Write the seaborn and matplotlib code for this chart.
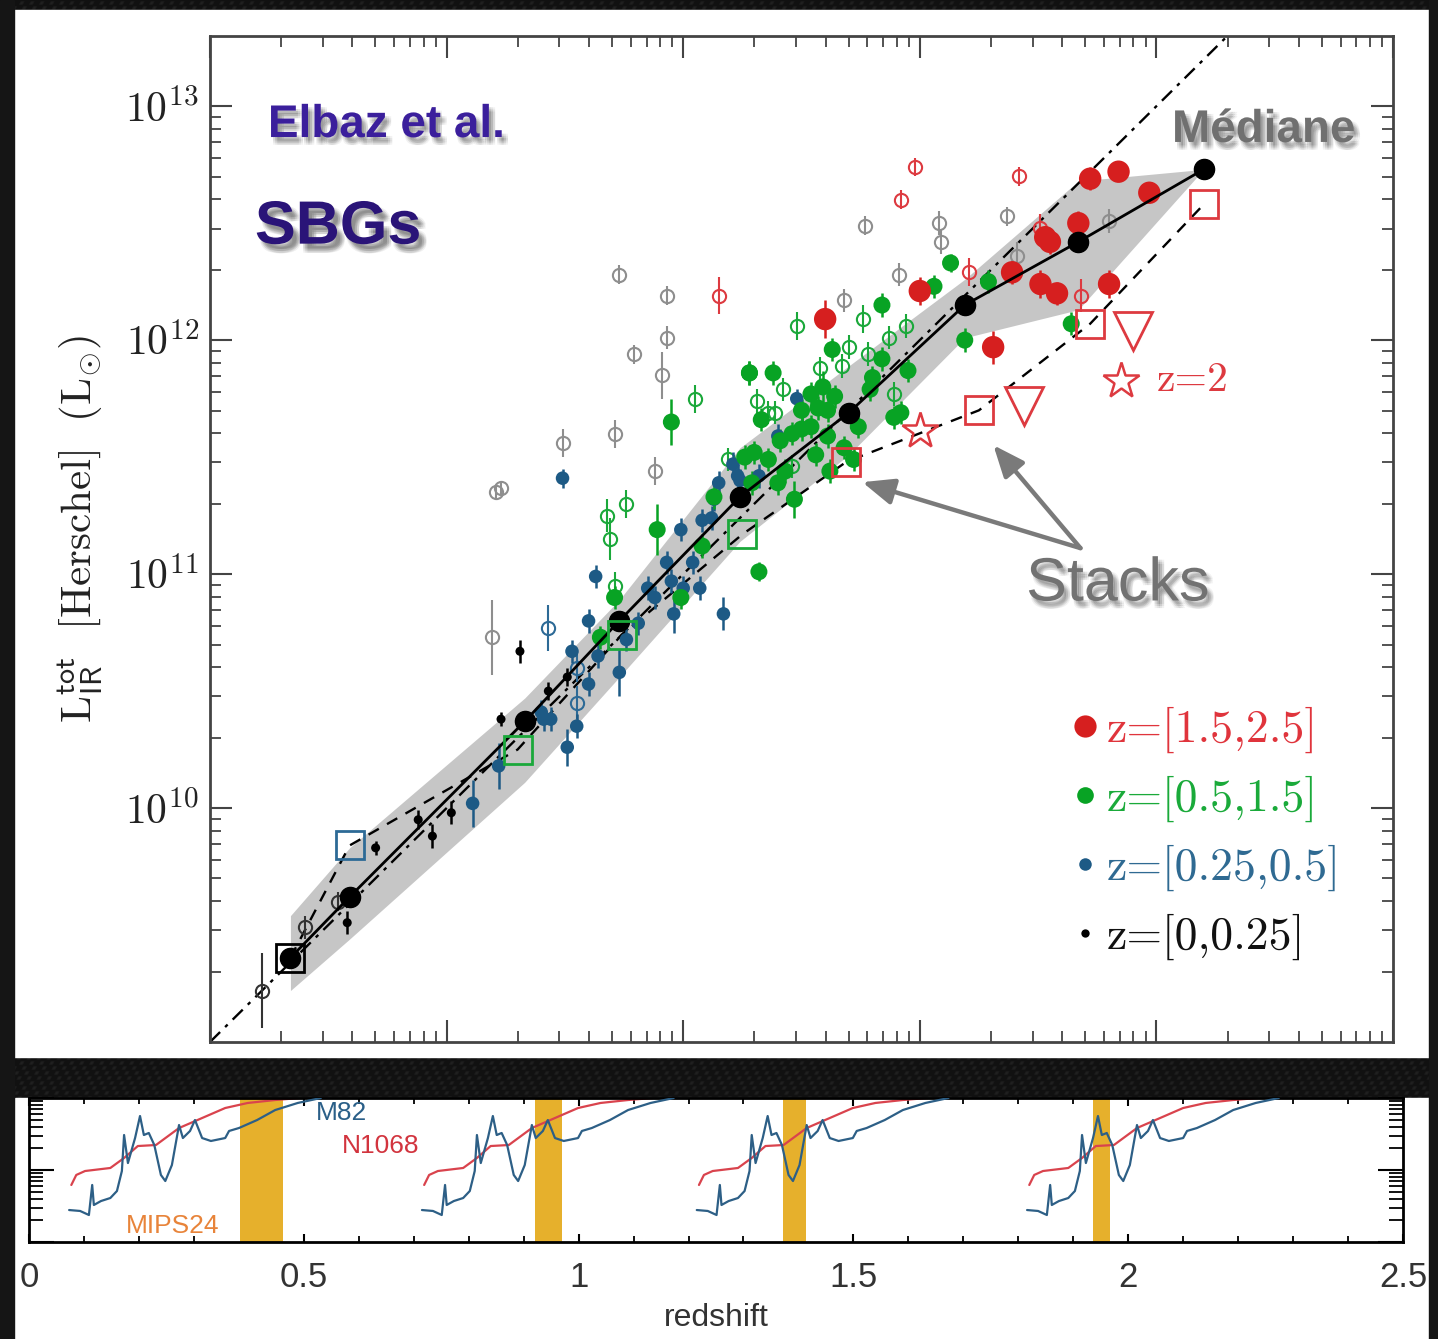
import numpy as np
import pandas as pd
import matplotlib
matplotlib.use("Agg")
import matplotlib.pyplot as plt
import matplotlib.patheffects as pe
from matplotlib.patches import Rectangle
from matplotlib.lines import Line2D
from matplotlib.font_manager import FontProperties
from matplotlib.ticker import LogLocator, NullFormatter, FixedLocator, MultipleLocator
import seaborn as sns

sns.set_theme(style="white")
plt.rcParams["font.family"] = ["Liberation Sans", "DejaVu Sans"]
plt.rcParams["mathtext.fontset"] = "cm"

# ---------------------------------------------------------------- data
# log10 L_IR(24um extrapolated) vs log10 L_IR(Herschel), per redshift bin
red_fill_x = [11.60, 12.00, 12.31, 12.39, 12.51, 12.58, 12.53, 12.55, 12.67, 12.80, 12.72, 12.84, 12.97]
red_fill_y = [12.09, 12.21, 11.97, 12.29, 12.24, 12.20, 12.44, 12.42, 12.50, 12.24, 12.69, 12.72, 12.63]
red_fill_e = [0.08, 0.06, 0.07, 0.05, 0.06, 0.05, 0.05, 0.05, 0.05, 0.06, 0.05, 0.04, 0.04]

red_open_x = [11.15, 11.92, 11.98, 12.42, 12.21, 12.51, 12.68]
red_open_y = [12.19, 12.60, 12.74, 12.70, 12.29, 12.48, 12.19]
red_open_e = [0.08, 0.04, 0.04, 0.04, 0.06, 0.06, 0.07]

green_fill_x = [11.28, 10.95, 10.89, 11.26, 11.08, 11.32, 10.71, 10.65, 10.99, 12.13, 12.06, 11.84,
                11.63, 11.38, 11.28, 11.84, 11.95, 11.80, 11.59, 11.54, 11.57, 11.64, 11.92, 11.89,
                12.19, 12.29, 11.61, 11.74, 11.50, 11.30, 11.46, 11.54, 11.61, 11.68, 11.72, 11.36,
                11.43, 11.40, 11.47, 11.29, 11.13, 12.64, 11.50, 11.56, 11.62, 11.41, 11.33, 11.79]
green_fill_y = [11.86, 11.65, 11.19, 11.50, 11.12, 11.01, 10.90, 10.73, 10.90, 12.33, 12.23, 12.15,
                11.96, 11.86, 11.86, 11.92, 11.87, 11.84, 11.80, 11.77, 11.71, 11.76, 11.69, 11.67,
                12.00, 12.25, 11.70, 11.63, 11.62, 11.52, 11.60, 11.63, 11.59, 11.54, 11.49, 11.49,
                11.44, 11.39, 11.32, 11.39, 11.33, 12.07, 11.70, 11.51, 11.44, 11.57, 11.66, 11.79]
green_fill_e = [0.05, 0.10, 0.11, 0.05, 0.05, 0.04, 0.05, 0.05, 0.05, 0.04, 0.05, 0.05,
                0.05, 0.05, 0.05, 0.05, 0.05, 0.05, 0.07, 0.05, 0.05, 0.05, 0.05, 0.05,
                0.05, 0.05, 0.05, 0.05, 0.05, 0.05, 0.05, 0.05, 0.05, 0.05, 0.05, 0.05,
                0.05, 0.05, 0.08, 0.05, 0.05, 0.05, 0.05, 0.05, 0.05, 0.05, 0.05, 0.05]

green_open_x = [11.05, 10.76, 10.68, 10.69, 11.19, 10.71, 11.76, 11.48, 11.94, 11.87,
                11.70, 11.78, 11.67, 11.58, 11.42, 11.31, 11.36, 11.39, 11.89, 11.46]
green_open_y = [11.75, 11.30, 11.25, 11.15, 11.49, 10.95, 12.09, 12.06, 12.06, 12.01,
                11.97, 11.94, 11.89, 11.88, 11.79, 11.74, 11.69, 11.69, 11.77, 11.46]
green_open_e = [0.06, 0.06, 0.07, 0.09, 0.05, 0.06, 0.06, 0.06, 0.05, 0.05,
                0.05, 0.05, 0.05, 0.05, 0.05, 0.05, 0.05, 0.05, 0.05, 0.05]

blue_fill_x = [10.49, 11.21, 11.24, 10.99, 11.08, 11.13, 10.93, 11.04, 10.63, 10.85, 10.95, 11.00,
               11.07, 10.88, 11.17, 10.96, 10.60, 10.81, 10.53, 10.76, 10.64, 10.73, 10.60, 10.44,
               10.55, 10.51, 10.40, 10.41, 10.22, 10.11, 11.48, 11.40, 11.23, 11.32, 11.15, 11.12]
blue_fill_y = [11.41, 11.47, 11.40, 11.19, 11.23, 11.32, 11.05, 11.05, 10.99, 10.94, 10.97, 10.94,
               10.94, 10.90, 10.83, 10.83, 10.80, 10.79, 10.67, 10.72, 10.65, 10.58, 10.53, 10.38,
               10.35, 10.26, 10.41, 10.38, 10.18, 10.02, 11.75, 11.59, 11.42, 11.42, 11.39, 11.24]
blue_fill_e = [0.04, 0.05, 0.05, 0.05, 0.05, 0.05, 0.05, 0.05, 0.05, 0.05, 0.05, 0.05,
               0.05, 0.05, 0.07, 0.08, 0.05, 0.05, 0.05, 0.05, 0.05, 0.10, 0.05, 0.05,
               0.05, 0.08, 0.05, 0.05, 0.10, 0.10, 0.04, 0.05, 0.05, 0.05, 0.05, 0.05]

blue_open_x = [10.43, 10.55, 10.55]
blue_open_y = [10.77, 10.60, 10.45]
blue_open_e = [0.10, 0.06, 0.07]

black_fill_x = [10.31, 10.43, 10.51, 10.23, 9.88, 10.02, 9.94, 9.70, 9.58]
black_fill_y = [10.67, 10.50, 10.56, 10.38, 9.95, 9.98, 9.88, 9.83, 9.51]
black_fill_e = [0.05, 0.04, 0.04, 0.03, 0.04, 0.05, 0.05, 0.03, 0.05]

black_open_x = [9.22, 9.54, 9.40]
black_open_y = [9.22, 9.60, 9.49]
black_open_e = [0.16, 0.04, 0.05]

gray_open_x = [10.73, 10.93, 10.93, 10.79, 10.91, 10.71, 10.49, 10.88, 10.23, 10.21,
               10.19, 11.68, 11.77, 11.91, 12.08, 12.09, 12.37, 12.41, 12.80]
gray_open_y = [12.28, 12.19, 12.01, 11.94, 11.85, 11.60, 11.56, 11.44, 11.37, 11.35,
               10.73, 12.17, 12.49, 12.28, 12.50, 12.42, 12.53, 12.36, 12.51]
gray_open_e = [0.04, 0.04, 0.05, 0.04, 0.10, 0.06, 0.06, 0.06, 0.03, 0.03,
               0.16, 0.05, 0.04, 0.05, 0.05, 0.05, 0.04, 0.06, 0.05]

# running median and its dispersion envelope
med_x = [9.34, 9.59, 10.33, 10.73, 11.24, 11.70, 12.19, 12.67, 13.20]
med_y = [9.36, 9.62, 10.37, 10.80, 11.33, 11.69, 12.15, 12.42, 12.73]
band_lo = [9.22, 9.44, 10.11, 10.56, 11.14, 11.51, 12.01, 12.13, 12.73]
band_hi = [9.54, 9.83, 10.47, 10.89, 11.54, 11.89, 12.26, 12.68, 12.73]

# stacked measurements
stack_black_x, stack_black_y = [9.34], [9.36]
stack_blue_x, stack_blue_y = [9.59], [9.84]
stack_green_x = [10.30, 10.74, 11.25]
stack_green_y = [10.25, 10.74, 11.17]
stack_red_x = [11.69, 12.25, 12.72, 13.20]
stack_red_y = [11.48, 11.70, 12.07, 12.58]
stack_tri_x = [12.44, 12.90]
stack_tri_y = [11.72, 12.04]
stack_star_x = [12.00]
stack_star_y = [11.61]
key_star_x, key_star_y = [12.85], [11.825]

ytick_exp = [10, 11, 12, 13]
legend_labels = ["z=[1.5,2.5]", "z=[0.5,1.5]", "z=[0.25,0.5]", "z=[0,0.25]"]

# template spectra (offset in redshift units, log10 flux)
m82_du = [0.0, 0.020, 0.036, 0.042, 0.045, 0.058, 0.075, 0.087, 0.096, 0.100, 0.107, 0.120, 0.129,
          0.136, 0.145, 0.155, 0.167, 0.175, 0.187, 0.200, 0.207, 0.220, 0.229, 0.242, 0.258,
          0.284, 0.291, 0.309, 0.342, 0.375, 0.416, 0.458]
m82_lf = [-0.556, -0.569, -0.625, -0.208, -0.486, -0.431, -0.389, -0.292, -0.014, 0.486, 0.097,
          0.444, 0.750, 0.486, 0.514, 0.347, -0.069, -0.153, 0.069, 0.625, 0.444, 0.542, 0.694,
          0.444, 0.403, 0.444, 0.542, 0.583, 0.694, 0.833, 0.931, 1.0]
n1068_du = [0.004, 0.013, 0.029, 0.075, 0.100, 0.125, 0.158, 0.200, 0.242, 0.284, 0.325, 0.375, 0.451]
n1068_lf = [-0.208, -0.069, -0.014, 0.028, 0.167, 0.333, 0.347, 0.583, 0.722, 0.861, 0.931, 0.972, 1.02]
sed_z0 = [0.073, 0.715, 1.215, 1.816]
mips_lo = [0.384, 0.921, 1.372, 1.936]
mips_hi = [0.462, 0.970, 1.414, 1.967]
z_ticks = [0, 0.5, 1, 1.5, 2, 2.5]
z_ticklabels = ["0", "0.5", "1", "1.5", "2", "2.5"]

# ---------------------------------------------------------------- colours
C_RED, C_GREEN, C_BLUE, C_BLACK = "#d61f1f", "#08a324", "#1d5a85", "#000000"
C_GRAY = "#8e8e8e"

W, H, DPI = 1438, 1339, 100
fig = plt.figure(figsize=(W / DPI, H / DPI), dpi=DPI)


def frac(x0, y0, x1, y1):
    return [x0 / W, 1 - y1 / H, (x1 - x0) / W, (y1 - y0) / H]


# textured dark backdrop with two white panels
bg = fig.add_axes([0, 0, 1, 1], zorder=-10)
yy, xx = np.mgrid[0:H, 0:W].astype(float)
tex = 0.07 + 0.06 * np.clip(np.sin(2 * np.pi * (xx + 0.5 * yy) / 10.0) * np.sin(2 * np.pi * yy / 10.0), 0, 1)
bg.imshow(tex, cmap="gray", vmin=0, vmax=1, extent=[0, W, H, 0], aspect="auto", interpolation="bilinear")
bg.add_patch(Rectangle((13, 10), 1429 - 13, 1057 - 10, color="white", zorder=2))
bg.add_patch(Rectangle((15, 1098), 1429 - 15, H - 1098, color="white", zorder=2))
bg.set_xlim(0, W)
bg.set_ylim(H, 0)
bg.axis("off")

# ---------------------------------------------------------------- main panel
ax = fig.add_axes(frac(210, 36, 1393, 1042))
ax.set_facecolor("white")
ax.set_xscale("log")
ax.set_yscale("log")
ax.set_xlim(1e9, 1e14)
ax.set_ylim(1e9, 10 ** 13.3)

P = lambda v: 10.0 ** np.asarray(v, dtype=float)

ax.fill_between(P(med_x), P(band_lo), P(band_hi), color="#c6c6c6", lw=0, zorder=1)
ax.plot([1e9, 1e14], [1e9, 1e14], color="black", lw=1.7, dashes=(6, 3, 1.5, 3), zorder=2)

stack_x = stack_black_x + stack_blue_x + stack_green_x + stack_red_x
stack_y = stack_black_y + stack_blue_y + stack_green_y + stack_red_y
order = np.argsort(stack_x)
ax.plot(P(stack_x)[order], P(stack_y)[order], color="black", lw=1.7, dashes=(5, 4), zorder=2)


def errs(x, y, e, color, lw=1.8, z=3):
    X, Y = P(x), P(y)
    ly, le = np.asarray(y), np.asarray(e)
    ax.errorbar(X, Y, yerr=[Y - P(ly - le), P(ly + le) - Y], fmt="none", ecolor=color,
                elinewidth=lw, capsize=0, zorder=z)


def opens(x, y, e, color):
    errs(x, y, e, color, lw=1.5)
    ax.plot(P(x), P(y), ls="none", marker="o", ms=9.5, mfc="none", mec=color, mew=1.5, zorder=3)


opens(gray_open_x, gray_open_y, gray_open_e, C_GRAY)
opens(red_open_x, red_open_y, red_open_e, "#dd3a40")
opens(green_open_x, green_open_y, green_open_e, "#1aa83a")
opens(blue_open_x, blue_open_y, blue_open_e, "#2d6a96")
opens(black_open_x, black_open_y, black_open_e, "#333333")

errs(blue_fill_x, blue_fill_y, blue_fill_e, C_BLUE)
errs(black_fill_x, black_fill_y, black_fill_e, C_BLACK)
errs(green_fill_x, green_fill_y, green_fill_e, C_GREEN)
errs(red_fill_x, red_fill_y, red_fill_e, C_RED)

bins = ["z=[0,0.25]", "z=[0.25,0.5]", "z=[0.5,1.5]", "z=[1.5,2.5]"]
filled = pd.DataFrame({
    "L24": np.concatenate([P(black_fill_x), P(blue_fill_x), P(green_fill_x), P(red_fill_x)]),
    "LIR": np.concatenate([P(black_fill_y), P(blue_fill_y), P(green_fill_y), P(red_fill_y)]),
    "bin": [bins[0]] * len(black_fill_x) + [bins[1]] * len(blue_fill_x)
           + [bins[2]] * len(green_fill_x) + [bins[3]] * len(red_fill_x),
})
palette = {bins[0]: C_BLACK, bins[1]: C_BLUE, bins[2]: C_GREEN, bins[3]: C_RED}
sizes = {bins[0]: 42, bins[1]: 95, bins[2]: 150, bins[3]: 260}
sns.scatterplot(data=filled, x="L24", y="LIR", hue="bin", size="bin", sizes=sizes, palette=palette,
                hue_order=bins, size_order=bins, edgecolor="none", linewidth=0, legend=False,
                ax=ax, zorder=4)

ax.plot(P(med_x), P(med_y), color="black", lw=2.0, marker="o", ms=14.5, zorder=5)

sq = dict(ls="none", marker="s", ms=20, mfc="none", mew=2.0, zorder=6)
ax.plot(P(stack_black_x), P(stack_black_y), mec="black", **sq)
ax.plot(P(stack_blue_x), P(stack_blue_y), mec="#2d6a96", **sq)
ax.plot(P(stack_green_x), P(stack_green_y), mec="#1aa83a", **sq)
ax.plot(P(stack_red_x), P(stack_red_y), mec="#dd3a40", **sq)
ax.plot(P(stack_tri_x), P(stack_tri_y), ls="none", marker="v", ms=27, mfc="none", mec="#dd3a40", mew=2.0, zorder=6)
ax.plot(P(stack_star_x), P(stack_star_y), ls="none", marker="*", ms=27, mfc="none", mec="#dd3a40", mew=1.8, zorder=6)
ax.plot(P(key_star_x), P(key_star_y), ls="none", marker="*", ms=27, mfc="none", mec="#dd3a40", mew=1.8, zorder=6)
ax.text(0.8005, 0.658, "z=2", transform=ax.transAxes, fontproperties=FontProperties(family="cmr10", size=30),
        color="#dd3a40", va="center", ha="left")

# axes styling
for s in ax.spines.values():
    s.set_color("#444444")
    s.set_linewidth(2)
ax.xaxis.set_major_locator(LogLocator(base=10, numticks=100))
ax.xaxis.set_minor_locator(LogLocator(base=10, subs=np.arange(2, 10) * 1.0, numticks=100))
ax.xaxis.set_minor_formatter(NullFormatter())
ax.yaxis.set_minor_locator(LogLocator(base=10, subs=np.arange(2, 10) * 1.0, numticks=100))
ax.yaxis.set_minor_formatter(NullFormatter())
ax.set_yticks(P(ytick_exp))
ax.set_yticklabels([rf"$10^{{{e}}}$" for e in ytick_exp])
ax.tick_params(which="both", direction="in", top=True, right=True, bottom=True, left=True,
               color="#444444", labelbottom=False)
ax.tick_params(which="major", length=16, width=1.5)
ax.tick_params(which="minor", length=8, width=1.3)
ax.tick_params(axis="y", labelsize=30, labelcolor="#222222", pad=8)
ax.set_xlabel("")
ax.set_ylabel("")
ax.text(-0.11, 0.51, r"$\mathrm{L}_{\mathsf{IR}}^{\mathsf{tot}}\ \ \mathrm{[Herschel]}\ \ \mathrm{(L}_{\odot}\mathrm{)}$",
        transform=ax.transAxes, rotation=90, ha="center", va="center", fontsize=31, color="#222222")

# legend of redshift bins
handles = [Line2D([], [], ls="none", marker="o", color=c, mec="none", markersize=m)
           for c, m in zip([C_RED, C_GREEN, C_BLUE, C_BLACK], [16, 12, 9, 6])]
leg = ax.legend(handles, legend_labels, loc="upper left", bbox_to_anchor=((1072 - 210) / 1183, (1042 - 707) / 1006),
                frameon=False, prop=FontProperties(family="cmr10", size=33), handlelength=0.55,
                handletextpad=0.2, labelspacing=0.495, borderpad=0, borderaxespad=0,
                labelcolor=["#e0343c", "#1aaa3a", "#2f6a92", "#111111"])


def shadow(alpha=0.05, dx=3, dy=-4):
    effs = []
    for ox in (-1.5, 0, 1.5):
        for oy in (-1.5, 0, 1.5):
            effs.append(pe.SimplePatchShadow(offset=(dx + ox, dy + oy), shadow_rgbFace="black", alpha=alpha))
    effs.append(pe.Normal())
    return effs


ax.text(0.049, 0.9115, "Elbaz et al.", transform=ax.transAxes, fontsize=33, fontweight="bold",
        color="#3b1f9c", va="center", ha="left", path_effects=shadow(), zorder=8)
ax.text(0.038, 0.809, "SBGs", transform=ax.transAxes, fontsize=44, fontweight="bold",
        color="#2a1478", va="center", ha="left", path_effects=shadow(0.06, 4, -5), zorder=8)
ax.text(0.8132, 0.9066, "Médiane", transform=ax.transAxes, fontsize=33, fontweight="bold",
        color="#707070", va="center", ha="left", path_effects=shadow(0.05, 3, -4), zorder=8)
ax.text(0.7675, 0.4543, "Stacks", transform=ax.transAxes, fontsize=44,
        color="#727272", va="center", ha="center", path_effects=shadow(0.05, 3, -4), zorder=8)

arrow_start = (P(12.679), P(11.111))
for tip in [(11.757, 11.393), (12.311, 11.551)]:
    ax.annotate("", xy=(P(tip[0]), P(tip[1])), xytext=arrow_start,
                arrowprops=dict(arrowstyle="-|>,head_length=1.2,head_width=0.5", color="#7a7a7a",
                                lw=3.2, shrinkA=0, shrinkB=0, mutation_scale=16), zorder=7)

# ---------------------------------------------------------------- redshift strip
ax2 = fig.add_axes(frac(29, 1098, 1403, 1242))
ax2.set_facecolor("white")
ax2.set_xlim(0, 2.5)
ax2.set_yscale("log")
ax2.set_ylim(0.1, 10)
for lo, hi in zip(mips_lo, mips_hi):
    ax2.axvspan(lo, hi, color="#e6b02c", lw=0, zorder=1)
for z0 in sed_z0:
    ax2.plot(z0 + np.asarray(n1068_du), P(n1068_lf), color="#d9434d", lw=1.6, zorder=2)
    ax2.plot(z0 + np.asarray(m82_du), P(m82_lf), color="#2d5f86", lw=1.6, zorder=3)
ax2.text(0.522, P(0.79), "M82", color="#2a5f88", fontsize=19, va="center", ha="left")
ax2.text(0.569, P(0.333), "N1068", color="#d2343e", fontsize=19, va="center", ha="left")
ax2.text(0.176, P(-0.778), "MIPS24", color="#e8843a", fontsize=19, va="center", ha="left")

for s in ax2.spines.values():
    s.set_color("black")
    s.set_linewidth(2)
ax2.set_xticks(z_ticks)
ax2.set_xticklabels(z_ticklabels)
ax2.xaxis.set_minor_locator(MultipleLocator(0.1))
ax2.yaxis.set_major_locator(FixedLocator([0.1, 1, 10]))
ax2.yaxis.set_minor_locator(LogLocator(base=10, subs=np.arange(2, 10) * 1.0, numticks=100))
ax2.yaxis.set_minor_formatter(NullFormatter())
ax2.tick_params(axis="x", which="both", direction="in", top=True, bottom=True, color="black")
ax2.tick_params(axis="x", which="major", length=6, width=1.5, labelsize=25, pad=14, labelcolor="#333333")
ax2.tick_params(axis="x", which="minor", length=4, width=1.3)
ax2.tick_params(axis="y", which="both", direction="in", left=True, right=True, labelleft=False, color="black")
ax2.tick_params(axis="y", which="major", length=18, width=1.5)
ax2.tick_params(axis="y", which="minor", length=10, width=1.3)
ax2.set_xlabel("redshift", fontsize=23, labelpad=6, color="#333333")

# dark edge strips over the panel borders
for x0, x1 in [(0, 14), (1429, W)]:
    fig.add_artist(Rectangle((x0 / W, 0), (x1 - x0) / W, 1, transform=fig.transFigure,
                             color="#151515", zorder=50))

fig.savefig("out.png", dpi=DPI)
